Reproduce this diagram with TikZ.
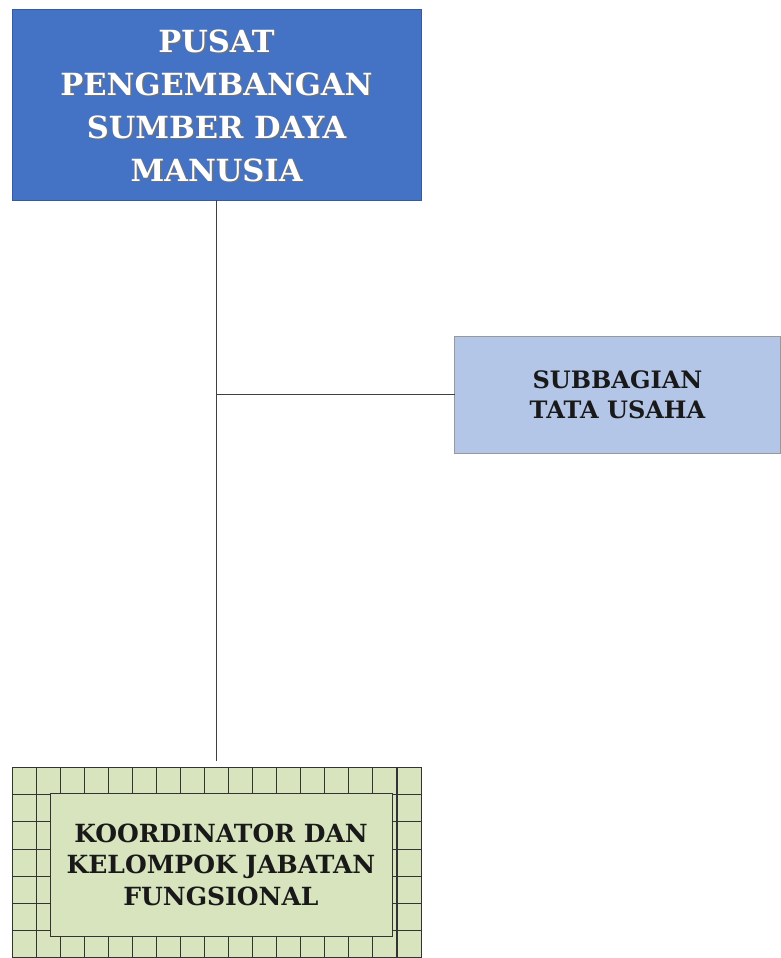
\documentclass[tikz,border=0pt]{standalone}
\usepackage{fontspec}
\newfontfamily\boxfont{DejaVu Serif}
\usetikzlibrary{calc}
\definecolor{topblue}{HTML}{4472C4}
\definecolor{lightblue}{HTML}{B4C6E7}
\definecolor{lightgreen}{HTML}{D7E4BD}
\definecolor{linegray}{HTML}{404040}
\begin{document}
\begin{tikzpicture}[x=1pt,y=-1pt,
  every node/.style={inner sep=0pt, outer sep=0pt, align=center},
  topbox/.style={draw=topblue!80!black, line width=0.8pt, fill=topblue, minimum width=409pt, minimum height=191pt},
  toptext/.style={text=white, font=\boxfont\bfseries\fontsize{30.5}{43}\selectfont},
  topshadow/.style={text=black!55, font=\boxfont\bfseries\fontsize{30.5}{43}\selectfont},
  sidebox/.style={draw=gray!80, line width=0.8pt, fill=lightblue, minimum width=326pt, minimum height=117pt,
     text=black!90, font=\boxfont\bfseries\fontsize{24}{30}\selectfont},
  gridbox/.style={draw=black!80, line width=1pt, fill=lightgreen, minimum width=409pt, minimum height=190pt},
  innerbox/.style={draw=black!80, line width=1pt, fill=lightgreen, minimum width=342pt, minimum height=143pt,
     text=black!90, font=\boxfont\bfseries\fontsize{25}{31.5}\selectfont},
  gridline/.style={draw=black!80, line width=1.1pt},
  conn/.style={draw=linegray, line width=1.5pt}]
\useasboundingbox (0,0) rectangle (781,958);
% boxes
\node[topbox] (pusat) at (216.5,104.5) {};
\node[topshadow] (pusatshadow) at (218,107) {PUSAT\\PENGEMBANGAN\\SUMBER DAYA\\MANUSIA};
\node[toptext] (pusattext) at (216.5,105.5) {PUSAT\\PENGEMBANGAN\\SUMBER DAYA\\MANUSIA};
\node[sidebox] (tu) at (617.5,394.5) {SUBBAGIAN\\TATA USAHA};
\node[gridbox] (grid) at (216.5,862.5) {};
\foreach \i in {1,...,16}
  \draw[gridline] ($(grid.north west)+(\i*24.06,0)$) -- ($(grid.south west)+(\i*24.06,0)$);
\foreach \j in {1,...,6}
  \draw[gridline] ($(grid.north west)+(0,\j*27.2)$) -- ($(grid.north east)+(0,\j*27.2)$);
\node[innerbox] (koor) at (221,864.5) {KOORDINATOR DAN\\KELOMPOK JABATAN\\FUNGSIONAL};
% connectors
\coordinate (stemend) at (216.5,761);
\coordinate (junc) at (216.5,394.5);
\draw[conn] (pusat.south) -- (stemend);
\draw[conn] (junc) -- (tu.west);
\end{tikzpicture}
\end{document}
